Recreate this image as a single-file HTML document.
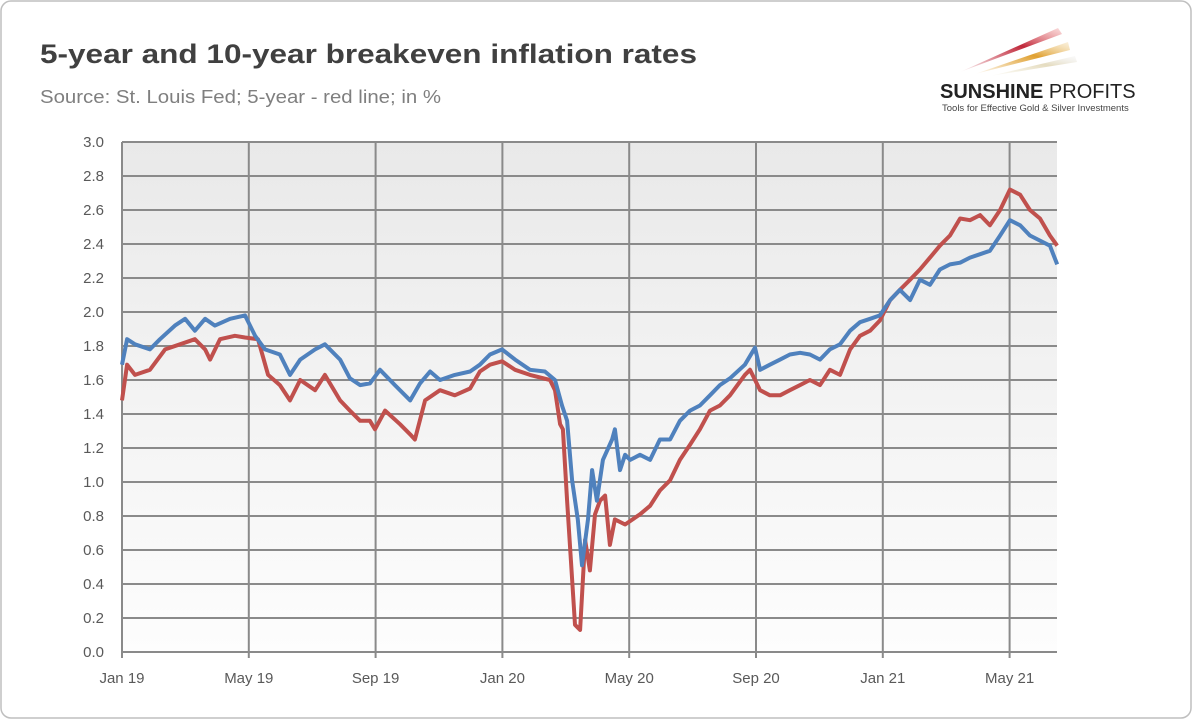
<!DOCTYPE html>
<html><head><meta charset="utf-8"><style>
body{margin:0;background:#fff;}
svg{display:block;font-family:"Liberation Sans",sans-serif;}
</style></head><body>
<svg id="chart" width="1192" height="719" viewBox="0 0 1192 719">
<defs>
<linearGradient id="bg" x1="0" y1="0" x2="0" y2="1"><stop offset="0" stop-color="#e9e9e9"/><stop offset="1" stop-color="#fdfdfd"/></linearGradient>
<linearGradient id="r1" x1="0" y1="1" x2="1" y2="0"><stop offset="0" stop-color="#c0283a" stop-opacity="0"/><stop offset="0.6" stop-color="#c0283a"/><stop offset="1" stop-color="#e88" stop-opacity="0.3"/></linearGradient>
<linearGradient id="r2" x1="0" y1="1" x2="1" y2="0"><stop offset="0" stop-color="#e0a030" stop-opacity="0"/><stop offset="0.6" stop-color="#e0a030"/><stop offset="1" stop-color="#f0d090" stop-opacity="0.3"/></linearGradient>
<linearGradient id="r3" x1="0" y1="1" x2="1" y2="0"><stop offset="0" stop-color="#e8e0c0" stop-opacity="0"/><stop offset="0.6" stop-color="#e5dcc0"/><stop offset="1" stop-color="#eee" stop-opacity="0.3"/></linearGradient>
</defs>
<rect x="1" y="1" width="1190" height="717" rx="10" fill="#fff" stroke="#bfbfbf" stroke-width="1.5"/>
<text x="40" y="63" font-size="27" font-weight="bold" fill="#404040" textLength="657" lengthAdjust="spacingAndGlyphs">5-year and 10-year breakeven inflation rates</text>
<text x="40" y="103" font-size="18" fill="#7f7f7f" textLength="401" lengthAdjust="spacingAndGlyphs">Source: St. Louis Fed; 5-year - red line; in %</text>
<g>
<polygon points="960,72 1058,28 1062,34" fill="url(#r1)"/>
<polygon points="975,74 1068,42 1070,50" fill="url(#r2)"/>
<polygon points="990,76 1075,56 1077,62" fill="url(#r3)"/>
<text x="940" y="98" font-size="20" font-weight="bold" fill="#222">SUNSHINE <tspan font-weight="normal">PROFITS</tspan></text>
<text x="942" y="111" font-size="9.5" fill="#444">Tools for Effective Gold &amp; Silver Investments</text>
</g>
<rect x="122" y="142" width="935" height="510" fill="url(#bg)"/>
<g id="grid"></g><g id="axes"></g><g id="series"></g>
</svg>
<script>
const yTicks=[0,0.2,0.4,0.6,0.8,1.0,1.2,1.4,1.6,1.8,2.0,2.2,2.4,2.6,2.8,3.0];
const xTickMonths=[0,4,8,12,16,20,24,28];
const xTickLabels=["Jan 19","May 19","Sep 19","Jan 20","May 20","Sep 20","Jan 21","May 21"];
const tenMonths=[0,.16,.41,.88,1.2,1.67,1.99,2.3,2.62,2.93,3.41,3.88,4.2,4.51,4.98,5.3,5.62,6.09,6.4,6.88,7.19,7.51,7.82,8.14,8.61,9.09,9.4,9.72,10.03,10.5,10.98,11.29,11.61,11.99,12.4,12.87,13.34,13.66,13.88,14.04,14.2,14.38,14.51,14.7,14.83,14.98,15.17,15.46,15.55,15.71,15.87,16.03,16.34,16.66,16.97,17.29,17.6,17.92,18.23,18.55,18.86,19.18,19.65,19.97,20.13,20.44,20.76,21.07,21.39,21.7,22.02,22.33,22.65,22.97,23.28,23.6,23.91,24.23,24.54,24.86,25.17,25.49,25.8,26.12,26.44,26.75,27.07,27.38,27.7,28.01,28.33,28.64,28.96,29.27,29.5];
const tenYear=[1.69,1.84,1.81,1.78,1.84,1.92,1.96,1.89,1.96,1.92,1.96,1.98,1.86,1.78,1.75,1.63,1.72,1.78,1.81,1.72,1.61,1.57,1.58,1.66,1.57,1.48,1.58,1.65,1.60,1.63,1.65,1.69,1.75,1.78,1.72,1.66,1.65,1.60,1.45,1.36,1.01,0.78,0.51,0.78,1.07,0.89,1.13,1.25,1.31,1.07,1.16,1.13,1.16,1.13,1.25,1.25,1.36,1.42,1.45,1.51,1.57,1.61,1.69,1.79,1.66,1.69,1.72,1.75,1.76,1.75,1.72,1.78,1.81,1.89,1.94,1.96,1.98,2.07,2.13,2.07,2.19,2.16,2.25,2.28,2.29,2.32,2.34,2.36,2.45,2.54,2.51,2.45,2.42,2.39,2.28];
const fiveMonths=[0,.16,.41,.88,1.36,1.83,2.3,2.62,2.78,3.09,3.56,3.88,4.29,4.61,4.98,5.3,5.62,6.09,6.4,6.88,7.19,7.51,7.82,7.98,8.3,8.77,9.09,9.24,9.56,10.03,10.5,10.98,11.29,11.61,11.99,12.4,12.87,13.5,13.66,13.82,13.91,14.04,14.16,14.29,14.45,14.61,14.76,14.92,15.08,15.24,15.39,15.55,15.87,16.34,16.66,16.97,17.29,17.6,17.92,18.23,18.55,18.86,19.18,19.65,19.81,20.13,20.44,20.76,21.07,21.39,21.7,22.02,22.33,22.65,22.97,23.28,23.6,23.91,24.23,24.54,24.86,25.17,25.49,25.8,26.12,26.44,26.75,27.07,27.38,27.7,28.01,28.33,28.64,28.96,29.27,29.5];
const fiveYear=[1.48,1.69,1.63,1.66,1.78,1.81,1.84,1.78,1.72,1.84,1.86,1.85,1.84,1.63,1.57,1.48,1.60,1.54,1.63,1.48,1.42,1.36,1.36,1.31,1.42,1.34,1.28,1.25,1.48,1.54,1.51,1.55,1.65,1.69,1.71,1.66,1.63,1.60,1.54,1.34,1.31,0.89,0.54,0.16,0.13,0.66,0.48,0.81,0.89,0.92,0.63,0.78,0.75,0.81,0.86,0.95,1.01,1.13,1.22,1.31,1.42,1.45,1.51,1.63,1.66,1.54,1.51,1.51,1.54,1.57,1.60,1.57,1.66,1.63,1.78,1.86,1.89,1.95,2.07,2.13,2.19,2.25,2.32,2.39,2.45,2.55,2.54,2.57,2.51,2.60,2.72,2.69,2.60,2.55,2.45,2.39];
const NS="http://www.w3.org/2000/svg";
const X0=122,X1=1057,Y0=652,Y1=142,PXM=31.7;
function xs(m){return X0+m*PXM;}
function ys(v){return Y0-(v/3)*(Y0-Y1);}
function mk(tag,attrs,parent){const e=document.createElementNS(NS,tag);for(const k in attrs)e.setAttribute(k,attrs[k]);parent.appendChild(e);return e;}
const grid=document.getElementById('grid'),axes=document.getElementById('axes'),ser=document.getElementById('series');
yTicks.forEach(v=>{
 const l=mk('line',{x1:X0,x2:X1,y1:ys(v),y2:ys(v),stroke:'#8a8a8a','stroke-width':2},grid);
 
 
 const t=mk('text',{x:104,y:ys(v)+5,'font-size':15,fill:'#595959','text-anchor':'end'},axes);
 t.textContent=v.toFixed(1);
 
 
});
xTickMonths.forEach((m,i)=>{
 const l=mk('line',{x1:xs(m),x2:xs(m),y1:Y1,y2:Y0+6,stroke:'#8a8a8a','stroke-width':2},grid);
 
 
 const t=mk('text',{x:xs(m),y:683,'font-size':15,fill:'#595959','text-anchor':'middle'},axes);
 t.textContent=xTickLabels[i];
 
 
});
function line(ms,vs,color,name){
 const d=ms.map((m,i)=>(i?'L':'M')+xs(m).toFixed(1)+','+ys(vs[i]).toFixed(1)).join(' ');
 const p=mk('path',{d:d,fill:'none',stroke:color,'stroke-width':4,'stroke-linejoin':'round'},ser);
 
 
}
line(fiveMonths,fiveYear,'#c0504d','five-year-line');
line(tenMonths,tenYear,'#4f81bd','ten-year-line');
</script>
</body></html>
